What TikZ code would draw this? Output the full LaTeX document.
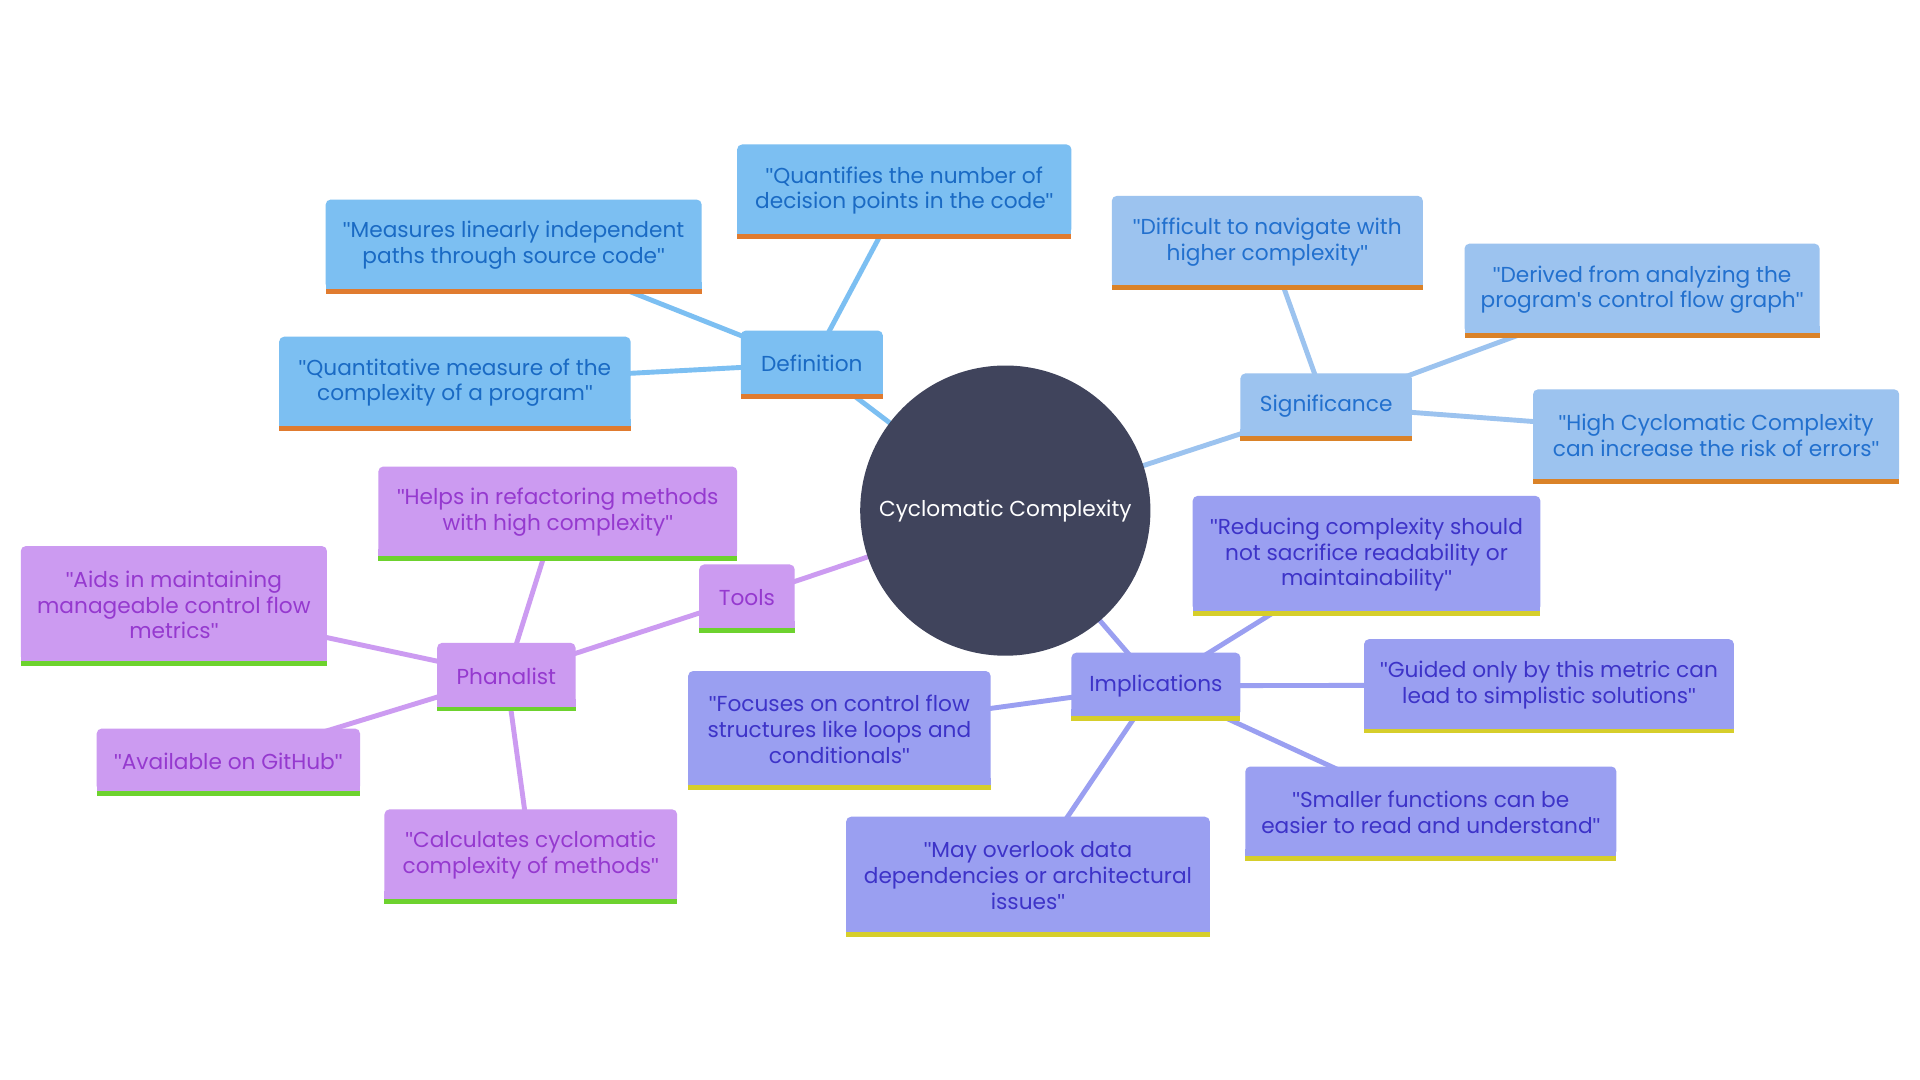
\documentclass[tikz,border=0pt]{standalone}
\usepackage{fontspec}
\setmainfont{Poppins}
\newfontfamily\qf{Liberation Sans}
\newcommand\dq{{\qf\char"22}}
\newcommand\sq{{\qf\char"27}}
\usetikzlibrary{backgrounds}
\definecolor{deffill}{HTML}{7CBFF2}
\definecolor{deftext}{HTML}{1A6AC4}
\definecolor{defbar}{HTML}{E07B2F}
\definecolor{sigfill}{HTML}{9CC3EF}
\definecolor{sigtext}{HTML}{2270CE}
\definecolor{sigbar}{HTML}{DA8228}
\definecolor{toolfill}{HTML}{CC9BF1}
\definecolor{tooltext}{HTML}{9539CF}
\definecolor{toolbar}{HTML}{6DD22E}
\definecolor{impfill}{HTML}{9A9FF1}
\definecolor{imptext}{HTML}{3D33C8}
\definecolor{impbar}{HTML}{D6CE2B}
\definecolor{ccfill}{HTML}{40445C}
\tikzset{
  mm/.style={rectangle, inner sep=0pt, align=center,
    font=\fontsize{17.7}{21}\selectfont},
  edge/.style={line width=4pt},
}
\newcommand\mmnode[7]{%
  \fill[#1fill, rounded corners=4pt] (#3,#4) rectangle (#5,{#6-4});
  \fill[#1fill] (#3,{#6-10}) rectangle (#5,{#6-4});
  \fill[#1bar] (#3,{#6-4}) rectangle (#5,#6);
  \node[mm, text=#1text, minimum width={#5-#3}, minimum height={#6-#4}]
    (#2) at ({(#3+#5)/2},{(#4+#6)/2-1}) {#7};
}
\begin{document}
\begin{tikzpicture}[x=1pt,y=-1pt]
\useasboundingbox (0,0) rectangle (1568,882);
\node[circle, fill=ccfill, minimum size=237pt, inner sep=0pt, text=white,
  font=\fontsize{17.7}{21}\selectfont] (cc) at (821,417) {Cyclomatic Complexity};

\mmnode{def}{def}{605}{270}{721}{326}{Definition}
\mmnode{def}{quant}{602}{118}{875}{195}{\dq Quantifies the number of\\decision points in the code\dq}
\mmnode{def}{meas}{266}{163}{573}{240}{\dq Measures linearly independent\\paths through source code\dq}
\mmnode{def}{quantm}{228}{275}{515}{352}{\dq Quantitative measure of the\\complexity of a program\dq}

\mmnode{sig}{sig}{1013}{305}{1153}{360}{Significance}
\mmnode{sig}{diff}{908}{160}{1162}{237}{\dq Difficult to navigate with\\higher complexity\dq}
\mmnode{sig}{deriv}{1196}{199}{1486}{276}{\dq Derived from analyzing the\\program\sq s control flow graph\dq}
\mmnode{sig}{high}{1252}{318}{1551}{395}{\dq High Cyclomatic Complexity\\can increase the risk of errors\dq}

\mmnode{tool}{tools}{571}{461}{649}{517}{Tools}
\mmnode{tool}{phan}{357}{525}{470}{581}{Phanalist}
\mmnode{tool}{helps}{309}{381}{602}{458}{\dq Helps in refactoring methods\\with high complexity\dq}
\mmnode{tool}{aids}{17}{446}{267}{544}{\dq Aids in maintaining\\manageable control flow\\metrics\dq}
\mmnode{tool}{avail}{79}{595}{294}{650}{\dq Available on GitHub\dq}
\mmnode{tool}{calc}{314}{661}{553}{738}{\dq Calculates cyclomatic\\complexity of methods\dq}

\mmnode{imp}{imp}{875}{533}{1013}{589}{Implications}
\mmnode{imp}{reduc}{974}{405}{1258}{503}{\dq Reducing complexity should\\not sacrifice readability or\\maintainability\dq}
\mmnode{imp}{guided}{1114}{522}{1416}{599}{\dq Guided only by this metric can\\lead to simplistic solutions\dq}
\mmnode{imp}{focus}{562}{548}{809}{645}{\dq Focuses on control flow\\structures like loops and\\conditionals\dq}
\mmnode{imp}{small}{1017}{626}{1320}{703}{\dq Smaller functions can be\\easier to read and understand\dq}
\mmnode{imp}{may}{691}{667}{988}{765}{\dq May overlook data\\dependencies or architectural\\issues\dq}

\begin{pgfonlayer}{background}
\fill[white] (0,0) rectangle (1568,882);
\draw[edge, deffill] (cc.center) -- (def.center);
\draw[edge, deffill] (def.center) -- (quant.center);
\draw[edge, deffill] (def.center) -- (meas.center);
\draw[edge, deffill] (def.center) -- (quantm.center);
\draw[edge, sigfill] (cc.center) -- (sig.center);
\draw[edge, sigfill] (sig.center) -- (diff.center);
\draw[edge, sigfill] (sig.center) -- (deriv.center);
\draw[edge, sigfill] (sig.center) -- (high.center);
\draw[edge, toolfill] (cc.center) -- (tools.center);
\draw[edge, toolfill] (tools.center) -- (phan.center);
\draw[edge, toolfill] (phan.center) -- (helps.center);
\draw[edge, toolfill] (phan.center) -- (aids.center);
\draw[edge, toolfill] (phan.center) -- (avail.center);
\draw[edge, toolfill] (phan.center) -- (calc.center);
\draw[edge, impfill] (cc.center) -- (imp.center);
\draw[edge, impfill] (imp.center) -- (reduc.center);
\draw[edge, impfill] (imp.center) -- (guided.center);
\draw[edge, impfill] (imp.center) -- (focus.center);
\draw[edge, impfill] (imp.center) -- (small.center);
\draw[edge, impfill] (imp.center) -- (may.center);
\end{pgfonlayer}
\end{tikzpicture}
\end{document}
